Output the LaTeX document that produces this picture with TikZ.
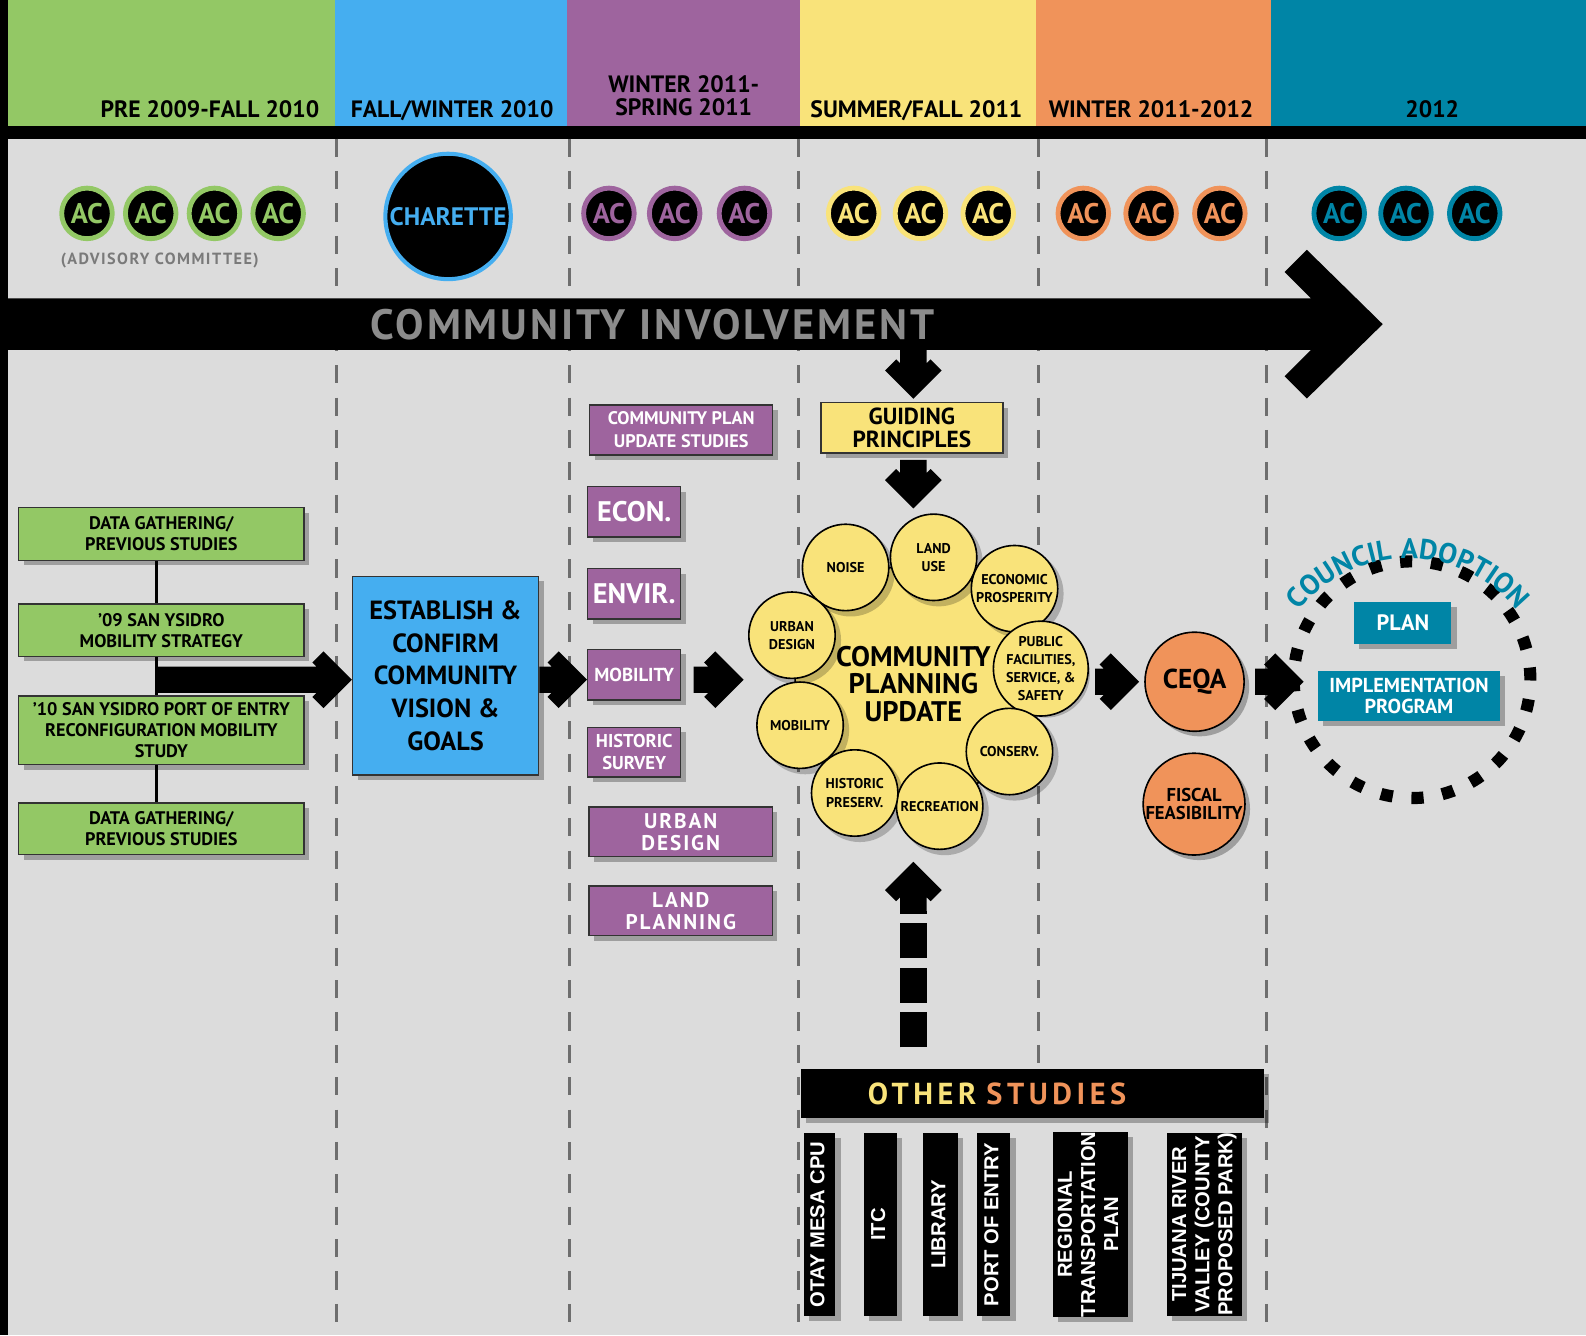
\documentclass[tikz,border=0pt]{standalone}
\usepackage{fontspec}
\setmainfont{PT Sans}
\newfontfamily\arialfont{Liberation Sans}
\usetikzlibrary{calc, shadows, decorations.text}

\definecolor{bggray}{HTML}{DCDCDC}
\definecolor{pgreen}{HTML}{93C865}
\definecolor{pblue}{HTML}{45AEF0}
\definecolor{ppurple}{HTML}{9E649E}
\definecolor{pyellow}{HTML}{F9E37A}
\definecolor{porange}{HTML}{F0935A}
\definecolor{pteal}{HTML}{0085A6}
\definecolor{dashgray}{HTML}{6E6E6E}

\newcommand{\fsz}[2]{\fontsize{#1}{#2}\selectfont}
% block arrow pointing right: #1 tail, #2 tip (same height)
\newcommand{\arrowright}[2]{%
  \fill ($(#1)+(0,-13)$) -- ($(#2)+(-35,-13)$) -- ++(-4,-4) -- ++(11,-11) -- (#2)
    -- ++(-28,28) -- ++(-11,-11) -- ++(4,-4) -- ($(#1)+(0,13)$) -- cycle;}
% block arrow pointing down: #1 tail, #2 tip
\newcommand{\arrowdown}[2]{%
  \fill ($(#1)+(-13,0)$) -- ($(#2)+(-13,-35)$) -- ++(-4,-4) -- ++(-11,11) -- (#2)
    -- ++(28,-28) -- ++(-11,-11) -- ++(-4,4) -- ($(#1)+(13,0)$) -- cycle;}

\begin{document}
\begin{tikzpicture}[x=0.5pt, y=-0.5pt]
    \tikzstyle{every node}=[inner sep=0pt]
    \tikzstyle{shadowed}=[drop shadow={shadow xshift=2.5pt, shadow yshift=-2.5pt, opacity=.28, fill=black}]
    \tikzstyle{period}=[font={\bfseries\fsz{11.7}{11.5}}, align=center]
    \tikzstyle{divider}=[dashgray, line width=1.5pt, dash pattern=on 9pt off 7pt]
    \tikzstyle{ac}=[circle, fill=black, line width=2.4pt, minimum size=25pt, font={\bfseries\fsz{14}{14}}]
    \tikzstyle{box}=[rectangle, draw=black!80, line width=0.7pt, shadowed, align=center]
    \tikzstyle{green box}=[box, fill=pgreen, minimum width=141pt, font={\bfseries\fsz{9}{10.4}}]
    \tikzstyle{purple box}=[box, fill=ppurple, text=white]
    \tikzstyle{topic}=[circle, draw=black, line width=0.8pt, fill=pyellow, minimum size=42.7pt, font={\bfseries\fsz{7}{9}}, align=center]
    \tikzstyle{orange circle}=[circle, draw=black, line width=0.8pt, fill=porange, shadowed, align=center]
    \tikzstyle{teal box}=[rectangle, fill=pteal, text=white, shadowed, align=center]
    \tikzstyle{study}=[rectangle, fill=black, text=white, shadowed, minimum height=90.5pt, font={\arialfont\bfseries\fsz{10}{11.4}}]

    \useasboundingbox (0,0) rectangle (1568,1320);
    \fill[bggray] (0,0) rectangle (1568,1320);
    \fill[black] (0,0) rectangle (8,1320);

    % Header bands
    \foreach \colr/\xa/\xb in {pgreen/8/331, pblue/331/561, ppurple/561/791, pyellow/791/1024, porange/1024/1257, pteal/1257/1568}
        \fill[\colr] (\xa,0) rectangle (\xb,125);
    \fill[black] (8,125) rectangle (1568,137);

    \node[period, anchor=base east] (pre) at (316,116) {PRE 2009-FALL 2010};
    \node[period, anchor=base] (fall) at (447,116) {FALL/WINTER 2010};
    \node[period, anchor=base] (spring) at (676,114) {WINTER 2011-\\SPRING 2011};
    \node[period, anchor=base] (summer) at (906,116) {SUMMER/FALL 2011};
    \node[period, anchor=base] (winter) at (1138,116) {WINTER 2011-2012};
    \node[period, anchor=base] (final) at (1416,116) {2012};

    % Dashed period dividers
    \foreach \x/\yb in {333/1320, 563/1320, 789/1320, 1027/1100, 1252/1320}
        \draw[divider] (\x,137) -- (\x,\yb);

    % Advisory committee meetings
    \foreach \x/\colr in {86/pgreen, 149/pgreen, 212/pgreen, 275/pgreen,
                          602/ppurple, 667/ppurple, 736/ppurple,
                          844/pyellow, 910/pyellow, 977/pyellow,
                          1071/porange, 1138/porange, 1206/porange,
                          1324/pteal, 1390/pteal, 1458/pteal}
        \node[ac, draw=\colr, text=\colr] (ac-\x) at (\x,211) {AC};
    \node[text=black!52, font={\bfseries\addfontfeature{LetterSpace=9}\fsz{8}{8}}] (advisory) at (158,258) {(ADVISORY COMMITTEE)};
    \node[circle, fill=black, draw=pblue, line width=2pt, minimum size=62pt, text=pblue, font={\bfseries\fsz{12.5}{12.5}}] (charette) at (443,214) {CHARETTE};

    % Community involvement arrow
    \fill[black] (8,295) -- (1296,295) -- (1270,269) -- (1292,247) -- (1367,320.5)
        -- (1292,394) -- (1270,372) -- (1296,346) -- (8,346) -- cycle;
    \node[text=black!45, font={\bfseries\addfontfeature{LetterSpace=7}\fsz{21}{21}}] (involvement) at (645,321) {COMMUNITY INVOLVEMENT};

    % Guiding principles
    \node[box, fill=pyellow, minimum width=90pt, minimum height=25pt, font={\bfseries\fsz{11.5}{11.5}}] (guiding) at (901.5,423) {GUIDING\\PRINCIPLES};
    \coordinate (ci-out) at (903,346);
    \coordinate (guide-in) at ($(guiding.north)+(1.5,-3)$);
    \coordinate (guide-out) at ($(guiding.south)+(1.5,6)$);
    \coordinate (cpu-in) at ($(guiding.south)+(1.5,54)$);
    \arrowdown{ci-out}{guide-in}
    \arrowdown{guide-out}{cpu-in}

    % Community plan update studies
    \node[purple box, minimum width=90.5pt, minimum height=24.75pt, font={\bfseries\fsz{9}{11.2}}] (cpus) at (673.5,425) {COMMUNITY PLAN\\UPDATE STUDIES};
    \node[purple box, minimum width=46pt, minimum height=25pt, font={\bfseries\fsz{14}{14}}] (econ) at (627,506) {ECON.};
    \node[purple box, minimum width=46pt, minimum height=25pt, font={\bfseries\fsz{14}{14}}] (envir) at (627,587) {ENVIR.};
    \node[purple box, minimum width=46pt, minimum height=25pt, font={\bfseries\fsz{9.3}{9.3}}] (mob) at (627,667) {MOBILITY};
    \node[purple box, minimum width=46pt, minimum height=24.5pt, font={\bfseries\fsz{9.2}{10.7}}] (hist) at (627,743.5) {HISTORIC\\SURVEY};
    \node[purple box, minimum width=90.5pt, minimum height=24.5pt, font={\bfseries\addfontfeature{LetterSpace=9}\fsz{10.5}{10.9}}] (urban) at (673,822.5) {URBAN\\DESIGN};
    \node[purple box, minimum width=90.5pt, minimum height=24.5pt, font={\bfseries\addfontfeature{LetterSpace=9}\fsz{10.5}{10.9}}] (land) at (673,900.5) {LAND\\PLANNING};

    % Previous studies
    \node[green box, minimum height=26pt] (g1) at (159.5,528) {DATA GATHERING/\\PREVIOUS STUDIES};
    \node[green box, minimum height=25.8pt] (g2) at (159.5,623) {’09 SAN YSIDRO\\MOBILITY STRATEGY};
    \node[green box, minimum height=34pt] (g3) at (159.5,722) {’10 SAN YSIDRO PORT OF ENTRY\\RECONFIGURATION MOBILITY\\STUDY};
    \node[green box, minimum height=25.5pt] (g4) at (159.5,819.5) {DATA GATHERING/\\PREVIOUS STUDIES};
    \coordinate (spine) at (155,672);
    \foreach \a/\b in {g1/g2, g2/g3, g3/g4}
        \draw[line width=1.5pt] (\a.south -| spine) -- (\b.north -| spine);

    % Vision and goals
    \node[box, fill=pblue, minimum width=92pt, minimum height=98.25pt, font={\bfseries\fsz{13}{16.2}}] (vision) at (440.5,668) {ESTABLISH \&\\CONFIRM\\COMMUNITY\\VISION \&\\GOALS};

    \coordinate (row) at (0,672);
    \arrowright{spine}{vision.west |- row}
    \arrowright{vision.east |- row}{mob.west |- row}
    \coordinate (mob-out) at ($(mob.east |- row)+(12,0)$);
    \coordinate (cpu-left) at ($(mob.east |- row)+(61.5,0)$);
    \arrowright{mob-out}{cpu-left}

    % Community planning update
    \node[circle, draw=black, line width=0.8pt, fill=pyellow, minimum size=117pt, font={\bfseries\fsz{14}{13.5}}, align=center] (cpu) at (903,676) {COMMUNITY\\PLANNING\\UPDATE};
    \foreach \x/\y in {836/561, 923/551, 1003/582, 1029/661, 998/743, 929/797, 845/784, 791/717, 783/628}
        \fill[black, opacity=.22] (\x+5,\y+5) circle[radius=43.5];
    \foreach \name/\x/\y/\txt in {noise/836/561/NOISE, landuse/923/551/{LAND\\USE},
                                  economic/1003/582/{ECONOMIC\\PROSPERITY},
                                  public/1029/661/{PUBLIC\\FACILITIES,\\SERVICE, \&\\SAFETY},
                                  conserv/998/743/CONSERV., recreation/929/797/RECREATION,
                                  historic/845/784/{HISTORIC\\PRESERV.}, mobility/791/717/MOBILITY,
                                  urbandesign/783/628/{URBAN\\DESIGN}}
        \node[topic] (\name) at (\x,\y) {\txt};

    % Environmental review
    \node[orange circle, minimum size=49pt, font={\bfseries\fsz{13.5}{13.5}}] (ceqa) at (1181,674) {CEQA};
    \node[orange circle, minimum size=48pt, font={\bfseries\fsz{9.2}{9}}] (fiscal) at (1180.5,795) {FISCAL\\FEASIBILITY};
    \coordinate (cpu-out) at ($(public.east |- ceqa.west)+(6,0)$);
    \coordinate (ceqa-in) at ($(ceqa.west)+(-5,0)$);
    \coordinate (ceqa-out) at ($(ceqa.east)+(10,0)$);
    \coordinate (council-in) at ($(ceqa.east)+(58,0)$);
    \arrowright{cpu-out}{ceqa-in}
    \arrowright{ceqa-out}{council-in}

    % Council adoption
    \node[circle, draw=black, line width=6pt, dash pattern=on 6pt off 9.3pt, minimum size=117pt] (council) at (1396,672) {};
    \node[teal box, minimum width=48pt, minimum height=21pt, font={\bfseries\fsz{11}{11}}] (plan) at (1387,616) {PLAN};
    \node[teal box, minimum width=90pt, minimum height=25pt, font={\bfseries\fsz{10}{10.7}}] (impl) at (1393,688) {IMPLEMENTATION\\PROGRAM};
    \path[decorate, decoration={text along path, text align=center,
          text={|\bfseries\addfontfeature{LetterSpace=5}\fsz{14}{14}\color{pteal}|COUNCIL ADOPTION}}]
        (1392,690) ++(195:138) arc[start angle=195, end angle=345, radius=138];

    % Other studies
    \node[fill=black, shadowed, minimum height=24pt, text width=163pt, inner xsep=33pt, align=left,
          font={\bfseries\addfontfeature{LetterSpace=15}\fsz{15}{15}}] (others) at (1021,1081)
        {\textcolor{pyellow}{OTHER} \textcolor{porange}{STUDIES}};
    \coordinate (up-tail) at ($(others.north)+(-118,-21)$);
    \coordinate (up-tip) at (903,852);
    \draw[line width=13pt, dash pattern=on 17.5pt off 4.5pt] (up-tail) -- ($(up-tip)+(0,49)$);
    \fill (up-tip) -- ++(28,28) -- ++(-11,11) -- ++(-4,-4) -- ++(0,14) -- ++(-26,0)
        -- ++(0,-14) -- ++(-4,4) -- ++(-11,-11) -- cycle;

    \foreach \name/\x/\w/\txt in {otay/810.5/15.5/{OTAY MESA CPU}, itc/870.5/16.5/ITC,
                                  library/930/17/LIBRARY, port/982.5/16.5/{PORT OF ENTRY},
                                  regional/1078/37/{REGIONAL\\TRANSPORTATION\\PLAN},
                                  tijuana/1191/37/{TIJUANA RIVER\\VALLEY (COUNTY\\PROPOSED PARK)}}
        \node[study, minimum width=\w*1pt] (\name) at (\x,1210.5)
            {\rotatebox{90}{\begin{tabular}{@{}c@{}}\txt\end{tabular}}};

\end{tikzpicture}
\end{document}
